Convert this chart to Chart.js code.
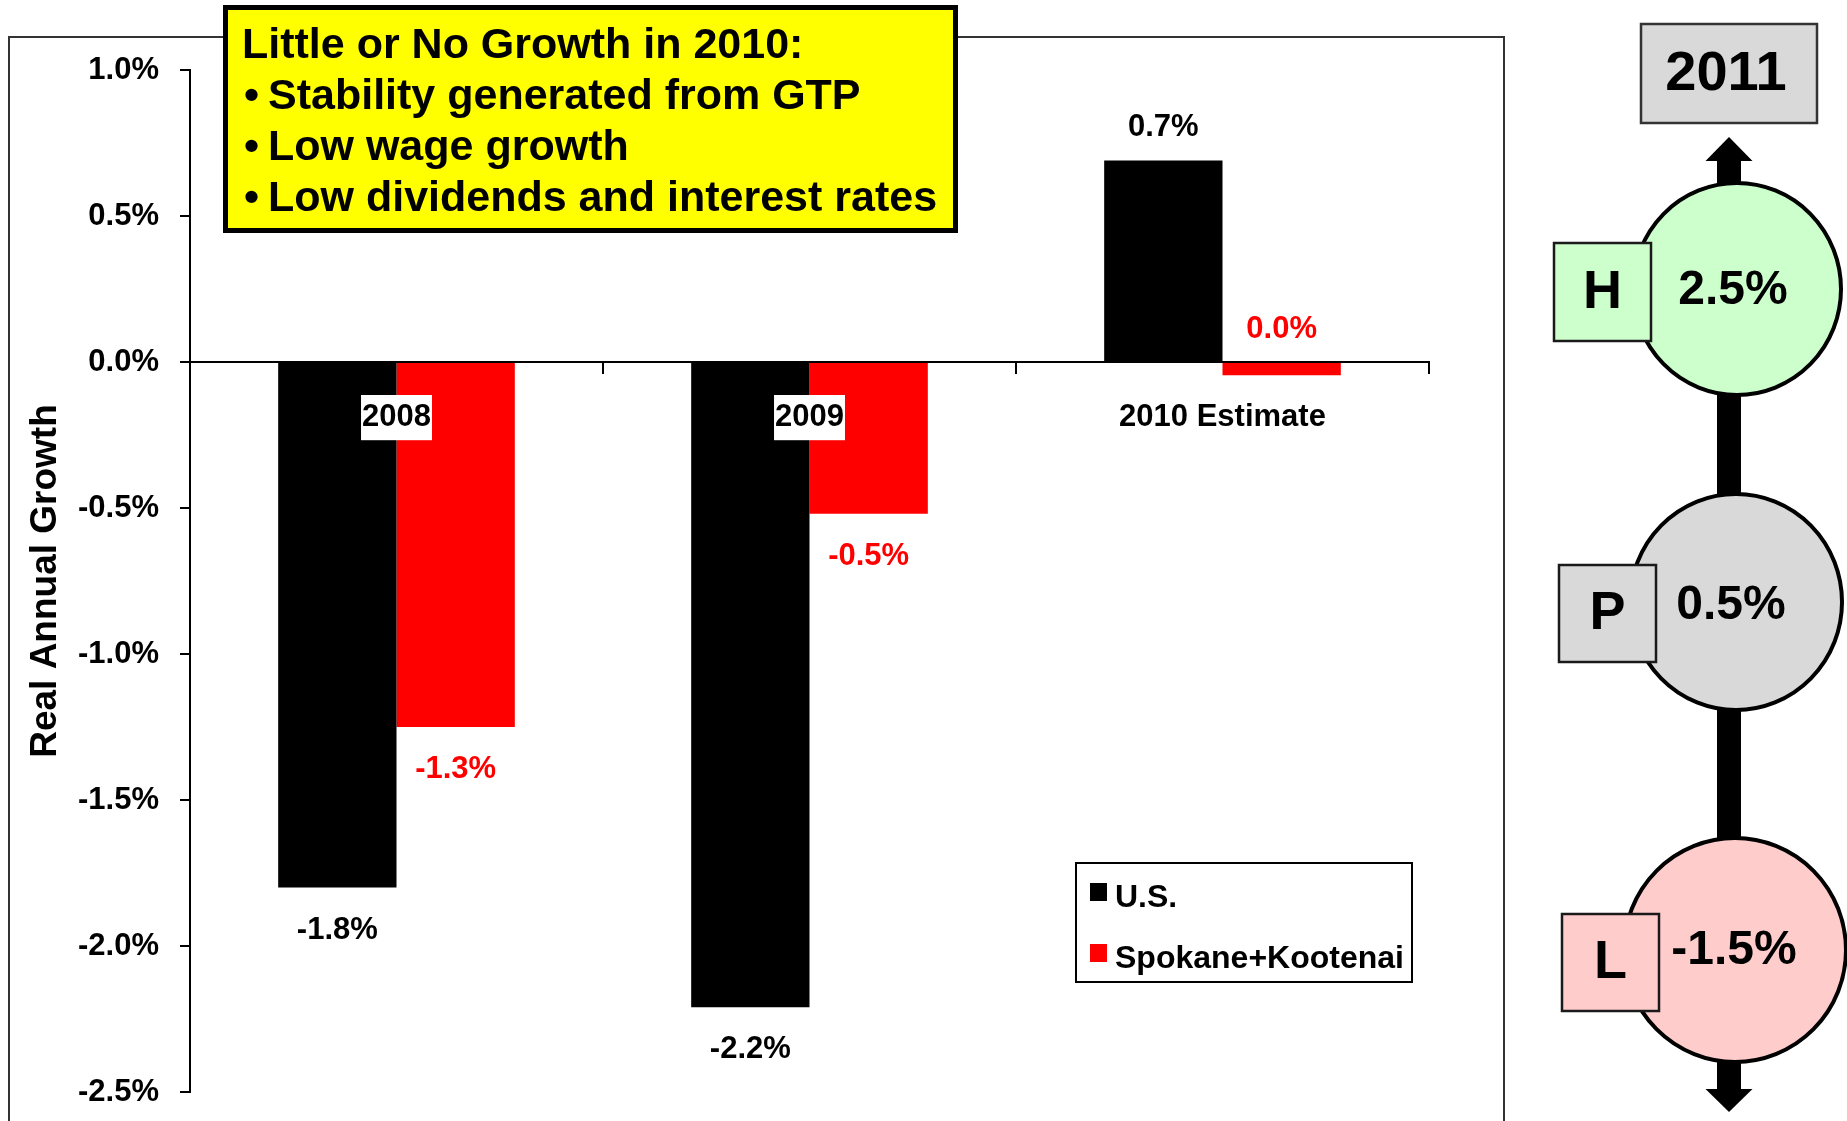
<!DOCTYPE html>
<html>
<head>
<meta charset="utf-8">
<title>Real Annual Growth</title>
<script src="https://cdn.jsdelivr.net/npm/chart.js@4.4.1/dist/chart.umd.min.js"></script>
<style>
  html, body { margin: 0; padding: 0; background: #ffffff; overflow: hidden; }
  canvas { display: block; }
</style>
</head>
<body>
<canvas id="growthChart" width="1847" height="1121"></canvas>
<script>
// ---- chart data ----
const categories = ['2008', '2009', '2010 Estimate'];
const seriesNames = ['U.S.', 'Spokane+Kootenai'];
const usGrowth = [-1.8, -2.21, 0.69];
const spokaneGrowth = [-1.25, -0.52, -0.045];
const yTickValues = [1.0, 0.5, 0.0, -0.5, -1.0, -1.5, -2.0, -2.5];
const axisTitle = 'Real Annual Growth';

// ---- callout text ----
const noteHeading = 'Little or No Growth in 2010:';
const noteBullets = ['Stability generated from GTP', 'Low wage growth', 'Low dividends and interest rates'];

// ---- 2011 outlook scenarios ----
const outlookYear = '2011';
const scenarioKeys = ['H', 'P', 'L'];
const scenarioGrowth = [2.5, 0.5, -1.5];

const FONT = "'Liberation Sans', Arial, Helvetica, sans-serif";
const bold = size => `bold ${size}px ${FONT}`;

// round half away from zero to one decimal, never printing "-0.0"
function roundTenth(v) {
  const r = Math.sign(v) * Math.round(Math.abs(v) * 10) / 10;
  return r === 0 ? 0 : r;
}
const pct = v => roundTenth(v).toFixed(1) + '%';

// outer chart frame and white background
const framePlugin = {
  id: 'frame',
  beforeDraw(chart) {
    const ctx = chart.ctx;
    ctx.save();
    ctx.fillStyle = '#ffffff';
    ctx.fillRect(0, 0, chart.width, chart.height);
    ctx.strokeStyle = '#333333';
    ctx.lineWidth = 2;
    ctx.strokeRect(9, 37, 1495, 1200);
    ctx.restore();
  }
};

// value labels at the end of each bar
const valueLabels = {
  id: 'valueLabels',
  afterDatasetsDraw(chart) {
    const ctx = chart.ctx;
    ctx.save();
    ctx.font = bold(31);
    ctx.textAlign = 'center';
    ctx.textBaseline = 'alphabetic';
    chart.data.datasets.forEach((ds, di) => {
      chart.getDatasetMeta(di).data.forEach((bar, i) => {
        const v = ds.data[i];
        ctx.fillStyle = ds.backgroundColor;
        const y = roundTenth(v) >= 0 ? Math.min(bar.y, bar.base) - 25 : bar.y + 51;
        ctx.fillText(pct(v), bar.x, y);
      });
    });
    ctx.restore();
  }
};

// boxed legend inside the plot
const legendBox = {
  id: 'legendBox',
  afterDraw(chart) {
    const ctx = chart.ctx;
    ctx.save();
    ctx.fillStyle = '#ffffff';
    ctx.fillRect(1076, 863, 336, 119);
    ctx.strokeStyle = '#000000';
    ctx.lineWidth = 2;
    ctx.strokeRect(1076, 863, 336, 119);
    ctx.font = bold(32);
    ctx.textAlign = 'left';
    ctx.textBaseline = 'alphabetic';
    chart.data.datasets.forEach((ds, i) => {
      const cy = 892 + i * 61;
      ctx.fillStyle = ds.backgroundColor;
      ctx.fillRect(1090, cy - 9, 17, 18);
      ctx.fillStyle = '#000000';
      ctx.fillText(ds.label, 1115, cy + 15);
    });
    ctx.restore();
  }
};

// yellow callout box
const notePanel = {
  id: 'notePanel',
  afterDraw(chart) {
    const ctx = chart.ctx;
    ctx.save();
    ctx.fillStyle = '#ffff00';
    ctx.fillRect(225, 7, 731, 224);
    ctx.strokeStyle = '#000000';
    ctx.lineWidth = 5;
    ctx.strokeRect(225.5, 7.5, 730, 223);
    ctx.fillStyle = '#000000';
    ctx.font = bold(43);
    ctx.textAlign = 'left';
    ctx.textBaseline = 'alphabetic';
    ctx.fillText(noteHeading, 242, 58);
    noteBullets.forEach((line, i) => {
      const y = 109 + i * 51;
      ctx.fillText('•', 244, y);
      ctx.fillText(line, 268, y);
    });
    ctx.restore();
  }
};

// 2011 outlook: arrow with high / projected / low scenarios
const outlookLayout = {
  shaftX: 1729, shaftHalf: 12, headHalf: 23.5,
  topTip: 137, topBase: 161, bottomBase: 1089, bottomTip: 1112,
  yearBox: { x: 1641, y: 24, w: 176, h: 99 },
  shapes: [
    { fill: '#ccffcc', cx: 1737, cy: 289, rx: 104, ry: 106, box: [1554, 243, 97, 98], vx: 1733, vy: 291 },
    { fill: '#d9d9d9', cx: 1736, cy: 602, rx: 106, ry: 108, box: [1559, 565, 97, 97], vx: 1731, vy: 606 },
    { fill: '#ffcccc', cx: 1735, cy: 950, rx: 111, ry: 112, box: [1562, 914, 97, 97], vx: 1734, vy: 951 }
  ]
};

const outlookPanel = {
  id: 'outlookPanel',
  afterDraw(chart) {
    const ctx = chart.ctx;
    const L = outlookLayout;
    ctx.save();

    // year box
    ctx.fillStyle = '#d9d9d9';
    ctx.fillRect(L.yearBox.x, L.yearBox.y, L.yearBox.w, L.yearBox.h);
    ctx.strokeStyle = '#333333';
    ctx.lineWidth = 2.5;
    ctx.strokeRect(L.yearBox.x, L.yearBox.y, L.yearBox.w, L.yearBox.h);
    ctx.fillStyle = '#000000';
    ctx.font = bold(56);
    ctx.textAlign = 'center';
    ctx.textBaseline = 'middle';
    ctx.fillText(outlookYear, L.yearBox.x + L.yearBox.w / 2 - 3, L.yearBox.y + L.yearBox.h / 2 + 1);

    // double-headed arrow
    ctx.fillStyle = '#000000';
    ctx.fillRect(L.shaftX - L.shaftHalf, L.topBase - 1, L.shaftHalf * 2, L.bottomBase - L.topBase + 2);
    ctx.beginPath();
    ctx.moveTo(L.shaftX - L.headHalf, L.topBase);
    ctx.lineTo(L.shaftX, L.topTip);
    ctx.lineTo(L.shaftX + L.headHalf, L.topBase);
    ctx.closePath();
    ctx.fill();
    ctx.beginPath();
    ctx.moveTo(L.shaftX - L.headHalf, L.bottomBase);
    ctx.lineTo(L.shaftX, L.bottomTip);
    ctx.lineTo(L.shaftX + L.headHalf, L.bottomBase);
    ctx.closePath();
    ctx.fill();

    // scenario bubbles
    L.shapes.forEach((s, i) => {
      ctx.beginPath();
      ctx.ellipse(s.cx, s.cy, s.rx, s.ry, 0, 0, Math.PI * 2);
      ctx.fillStyle = s.fill;
      ctx.fill();
      ctx.lineWidth = 4;
      ctx.strokeStyle = '#000000';
      ctx.stroke();

      const [bx, by, bw, bh] = s.box;
      ctx.fillStyle = s.fill;
      ctx.fillRect(bx, by, bw, bh);
      ctx.lineWidth = 2.5;
      ctx.strokeStyle = '#1a1a1a';
      ctx.strokeRect(bx, by, bw, bh);

      ctx.fillStyle = '#000000';
      ctx.textAlign = 'center';
      ctx.textBaseline = 'middle';
      ctx.font = bold(54);
      ctx.fillText(scenarioKeys[i], bx + bw / 2, by + bh / 2 + 1);
      ctx.font = bold(48);
      ctx.fillText(pct(scenarioGrowth[i]), s.vx, s.vy);
    });

    ctx.restore();
  }
};

new Chart(document.getElementById('growthChart'), {
  type: 'bar',
  data: {
    labels: categories,
    datasets: [
      { label: seriesNames[0], data: usGrowth, backgroundColor: '#000000', borderWidth: 0 },
      { label: seriesNames[1], data: spokaneGrowth, backgroundColor: '#ff0000', borderWidth: 0 }
    ]
  },
  options: {
    responsive: false,
    animation: false,
    devicePixelRatio: 1,
    categoryPercentage: 0.573,
    barPercentage: 1.0,
    layout: { padding: { left: 0, top: 70, right: 418, bottom: 29 } },
    plugins: {
      legend: { display: false },
      tooltip: { enabled: false }
    },
    scales: {
      x: {
        position: { y: 0 },
        afterFit: scale => { scale.height = 0; scale.paddingTop = 0; scale.paddingBottom = 0; },
        grid: { drawOnChartArea: false, drawTicks: true, tickLength: 11, color: '#000000', lineWidth: 2, offset: true, z: 1 },
        border: { display: true, color: '#000000', width: 2, z: 1 },
        ticks: {
          z: 1,
          color: '#000000',
          font: { family: FONT, size: 31, weight: 'bold' },
          padding: 26,
          maxRotation: 0,
          autoSkip: false,
          showLabelBackdrop: true,
          backdropColor: '#ffffff',
          backdropPadding: { top: 4, bottom: 4, left: 1, right: 1 }
        }
      },
      y: {
        min: yTickValues[yTickValues.length - 1],
        max: yTickValues[0],
        afterFit: scale => { scale.width = 190; scale.paddingTop = 0; scale.paddingBottom = 0; },
        afterBuildTicks: scale => { scale.ticks = yTickValues.map(v => ({ value: v })); },
        grid: { drawOnChartArea: false, drawTicks: true, tickLength: 10, color: '#000000', lineWidth: 2 },
        border: { display: true, color: '#000000', width: 2 },
        ticks: {
          color: '#000000',
          font: { family: FONT, size: 31, weight: 'bold' },
          padding: 21,
          callback: v => pct(v)
        },
        title: {
          display: true,
          text: axisTitle,
          color: '#000000',
          font: { family: FONT, size: 37, weight: 'bold' },
          padding: { top: 24, bottom: 0 }
        }
      }
    }
  },
  plugins: [framePlugin, valueLabels, legendBox, notePanel, outlookPanel]
});
</script>
</body>
</html>
